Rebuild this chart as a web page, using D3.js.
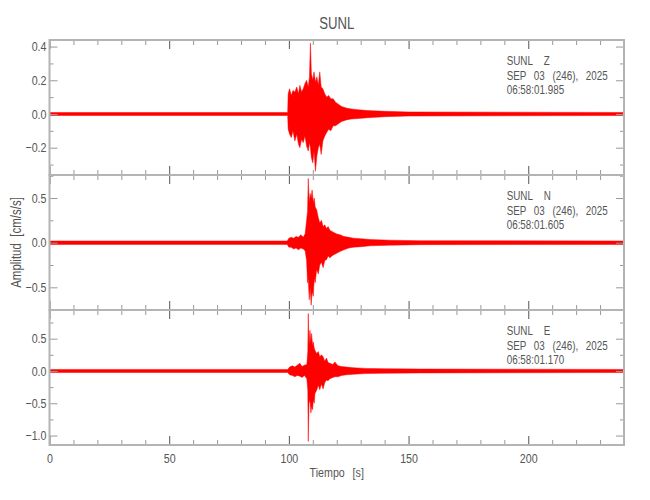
<!DOCTYPE html>
<meta charset="utf-8">
<style>
  body { margin: 0; background: #fff; }
  svg text { font-family: "Liberation Sans", Arial, sans-serif; fill: #555; }
</style>
<script src="https://d3js.org/d3.v7.min.js"></script>
<body>
<svg id="chart" width="650" height="500"></svg>
<script>
// station + channels
var station = "SUNL";
var channels = ["Z", "N", "E"];
var dateLabel = "SEP 03 (246), 2025";
var startTimes = ["06:58:01.985", "06:58:01.605", "06:58:01.170"];
var timeDomain = [0, 240];
var yDomains = [[-0.362, 0.439], [-0.754, 0.758], [-1.146, 0.944]];
var yMajor = [[-0.2, 0.0, 0.2, 0.4], [-0.5, 0.0, 0.5], [-1.0, -0.5, 0.0, 0.5]];
var xMajor = [0, 50, 100, 150, 200];

// envelopes (cm/s/s), upper and lower per time knot (s)
var zTime  = [0, 99.5, 99.7, 100.3, 101, 101.7, 102.5, 103.3, 104.0, 104.6, 105.3, 106, 106.7, 107.4, 108.1, 108.6, 109.0, 109.4, 110, 110.5, 111.1, 111.7, 112.3, 112.9, 113.5, 114.2, 115, 115.8, 116.6, 117.5, 118.5, 119.5, 120.5, 122, 124, 126, 129, 133, 140, 150, 240];
var zUpper = [0.009, 0.009, 0.12, 0.15, 0.11, 0.14, 0.13, 0.16, 0.12, 0.17, 0.13, 0.15, 0.18, 0.20, 0.16, 0.22, 0.42, 0.24, 0.20, 0.25, 0.19, 0.22, 0.17, 0.25, 0.16, 0.15, 0.12, 0.10, 0.11, 0.09, 0.09, 0.07, 0.06, 0.045, 0.035, 0.03, 0.025, 0.02, 0.016, 0.012, 0.009];
var zLower = [-0.009, -0.009, -0.09, -0.12, -0.14, -0.10, -0.16, -0.12, -0.18, -0.20, -0.15, -0.17, -0.13, -0.19, -0.22, -0.17, -0.20, -0.26, -0.29, -0.22, -0.34, -0.25, -0.20, -0.18, -0.24, -0.16, -0.13, -0.11, -0.09, -0.10, -0.07, -0.07, -0.06, -0.045, -0.035, -0.03, -0.027, -0.022, -0.016, -0.012, -0.009];

var nTime  = [0, 99.3, 100, 101, 102, 103, 104, 105, 106, 106.8, 107.4, 107.8, 108.1, 108.5, 108.9, 109.3, 109.7, 110.2, 110.6, 111.0, 111.6, 112.3, 112.9, 113.6, 114.3, 115.0, 115.7, 116.4, 117.1, 118.4, 119.8, 121.3, 123, 125, 127, 130, 134, 142, 155, 240];
var nUpper = [0.019, 0.019, 0.05, 0.06, 0.05, 0.07, 0.06, 0.09, 0.06, 0.10, 0.25, 0.35, 0.72, 0.45, 0.55, 0.50, 0.59, 0.45, 0.50, 0.40, 0.37, 0.28, 0.22, 0.25, 0.18, 0.20, 0.16, 0.18, 0.14, 0.12, 0.10, 0.09, 0.07, 0.06, 0.05, 0.045, 0.035, 0.028, 0.022, 0.019];
var nLower = [-0.019, -0.019, -0.05, -0.05, -0.07, -0.06, -0.08, -0.06, -0.07, -0.09, -0.20, -0.45, -0.40, -0.64, -0.50, -0.70, -0.55, -0.60, -0.40, -0.45, -0.30, -0.35, -0.25, -0.22, -0.28, -0.20, -0.19, -0.15, -0.17, -0.14, -0.12, -0.10, -0.08, -0.06, -0.05, -0.045, -0.035, -0.028, -0.022, -0.019];

var eTime  = [0, 99.5, 100.3, 101.5, 102.5, 103.5, 104.6, 105.5, 106.5, 107.5, 107.9, 108.1, 108.4, 108.8, 109.2, 109.5, 109.9, 110.2, 110.6, 110.9, 111.6, 112.3, 112.9, 113.6, 114.3, 115.0, 115.7, 116.4, 117.1, 118.4, 119.2, 120.5, 122, 124, 127, 132, 140, 155, 240];
var eUpper = [0.024, 0.024, 0.06, 0.08, 0.06, 0.09, 0.12, 0.07, 0.09, 0.10, 0.30, 0.89, 0.40, 0.63, 0.45, 0.58, 0.40, 0.45, 0.35, 0.32, 0.27, 0.30, 0.22, 0.25, 0.22, 0.15, 0.20, 0.13, 0.12, 0.10, 0.14, 0.08, 0.07, 0.06, 0.05, 0.04, 0.035, 0.03, 0.024];
var eLower = [-0.024, -0.024, -0.06, -0.07, -0.09, -0.07, -0.08, -0.10, -0.07, -0.12, -0.30, -1.09, -0.50, -0.45, -0.65, -0.55, -0.60, -0.45, -0.50, -0.35, -0.30, -0.22, -0.29, -0.20, -0.28, -0.18, -0.14, -0.15, -0.12, -0.10, -0.09, -0.09, -0.07, -0.06, -0.05, -0.04, -0.035, -0.03, -0.024];

var traces = [
  {t: zTime, up: zUpper, lo: zLower},
  {t: nTime, up: nUpper, lo: nLower},
  {t: eTime, up: eUpper, lo: eLower}
];

var svg = d3.select("#chart");
var left = 49.5, right = 624, top0 = 40, panelH = 135;
var axisGrey = "#b4b4b4";
var narrow = 0.82; // squeeze Liberation Sans toward the condensed plot font

var x = d3.scaleLinear().domain(timeDomain).range([left, right]);
var xMinor = d3.range(10, 240, 10).filter(function(v) { return xMajor.indexOf(v) < 0; });
var fmt = d3.format(".1f");

function styleTicks(g, col) {
  g.select(".domain").remove();
  g.selectAll(".tick line").attr("stroke", col).attr("stroke-width", 1);
}

function squeeze(sel) {
  sel.each(function() {
    var t = d3.select(this);
    var xv = +t.attr("x") || 0;
    t.attr("x", xv / narrow)
     .attr("transform", (t.attr("transform") || "") + " scale(" + narrow + ",1)");
  });
}

traces.forEach(function(tr, i) {
  var top = top0 + i * panelH;
  var y = d3.scaleLinear().domain(yDomains[i]).range([top + panelH, top]);
  var step = i == 0 ? 0.1 : 0.25;
  var yMin = d3.range(Math.ceil(yDomains[i][0] / step) * step, yDomains[i][1], step)
    .map(function(v) { return +v.toFixed(3); })
    .filter(function(v) { return yMajor[i].indexOf(v) < 0; });

  var pts = tr.t.map(function(t, k) { return {t: t, up: tr.up[k], lo: tr.lo[k]}; });
  var area = d3.area()
    .x(function(d) { return x(d.t); })
    .y0(function(d) { return y(d.lo); })
    .y1(function(d) { return y(d.up); });

  svg.append("path")
    .datum(pts)
    .attr("d", area)
    .attr("fill", "#ff0000")
    .attr("stroke", "#ff0000")
    .attr("stroke-width", 0.5)
    .attr("stroke-linejoin", "round");

  // left axis (labels + inward ticks)
  svg.append("g").attr("transform", "translate(" + left + ",0)")
    .call(d3.axisLeft(y).tickValues(yMajor[i]).tickSize(-8).tickSizeOuter(0).tickPadding(3).tickFormat(fmt))
    .call(function(g) { styleTicks(g, "#999"); })
    .call(function(g) {
      g.selectAll("text").attr("font-size", 13).attr("fill", "#555").attr("font-family", null).call(squeeze);
    });
  svg.append("g").attr("transform", "translate(" + left + ",0)")
    .call(d3.axisLeft(y).tickValues(yMin).tickSize(-4).tickSizeOuter(0).tickFormat(""))
    .call(function(g) { styleTicks(g, "#999"); });

  // right axis
  svg.append("g").attr("transform", "translate(" + right + ",0)")
    .call(d3.axisRight(y).tickValues(yMajor[i]).tickSize(-8).tickSizeOuter(0).tickFormat(""))
    .call(function(g) { styleTicks(g, "#999"); });
  svg.append("g").attr("transform", "translate(" + right + ",0)")
    .call(d3.axisRight(y).tickValues(yMin).tickSize(-4).tickSizeOuter(0).tickFormat(""))
    .call(function(g) { styleTicks(g, "#999"); });

  // top and bottom time ticks
  svg.append("g").attr("transform", "translate(0," + top + ")")
    .call(d3.axisTop(x).tickValues(xMajor).tickSize(-9).tickSizeOuter(0).tickFormat(""))
    .call(function(g) { styleTicks(g, "#555"); });
  svg.append("g").attr("transform", "translate(0," + top + ")")
    .call(d3.axisTop(x).tickValues(xMinor).tickSize(-5).tickSizeOuter(0).tickFormat(""))
    .call(function(g) { styleTicks(g, "#999"); });

  var bottom = svg.append("g").attr("transform", "translate(0," + (top + panelH) + ")")
    .call(d3.axisBottom(x).tickValues(xMajor).tickSize(-9).tickSizeOuter(0).tickPadding(5)
      .tickFormat(i == traces.length - 1 ? d3.format("d") : ""))
    .call(function(g) { styleTicks(g, "#555"); });
  bottom.selectAll("text").attr("font-size", 13).attr("fill", "#555").attr("font-family", null)
    .attr("dy", "1em").call(squeeze);
  svg.append("g").attr("transform", "translate(0," + (top + panelH) + ")")
    .call(d3.axisBottom(x).tickValues(xMinor).tickSize(-5).tickSizeOuter(0).tickFormat(""))
    .call(function(g) { styleTicks(g, "#999"); });

  // panel frame
  svg.append("rect")
    .attr("x", left).attr("y", top)
    .attr("width", right - left).attr("height", panelH)
    .attr("fill", "none").attr("stroke", axisGrey).attr("stroke-width", 2);

  // station / channel / date / start time
  var tx = 506.7;
  var lab = svg.append("g").attr("font-size", 12);
  lab.append("text").attr("x", tx).attr("y", top + 25.5).text(station);
  lab.append("text").attr("x", tx + 37).attr("y", top + 25.5).text(channels[i]);
  lab.append("text").attr("x", tx).attr("y", top + 39.9).attr("word-spacing", 6).text(dateLabel);
  lab.append("text").attr("x", tx).attr("y", top + 54.3).text(startTimes[i]);
  lab.selectAll("text").call(squeeze);
});

svg.append("text")
  .attr("x", (left + right) / 2).attr("y", 29)
  .attr("text-anchor", "middle").attr("font-size", 16).attr("fill", "#666")
  .text(station).call(squeeze);

svg.append("text")
  .attr("x", (left + right) / 2).attr("y", 477)
  .attr("text-anchor", "middle").attr("font-size", 13).attr("word-spacing", 6)
  .text("Tiempo [s]").call(squeeze);

svg.append("text")
  .attr("transform", "translate(21," + (top0 + 1.5 * panelH) + ") rotate(-90)")
  .attr("text-anchor", "middle").attr("font-size", 14).attr("word-spacing", 4)
  .text("Amplitud [cm/s/s]").call(squeeze);
</script>
</body>
